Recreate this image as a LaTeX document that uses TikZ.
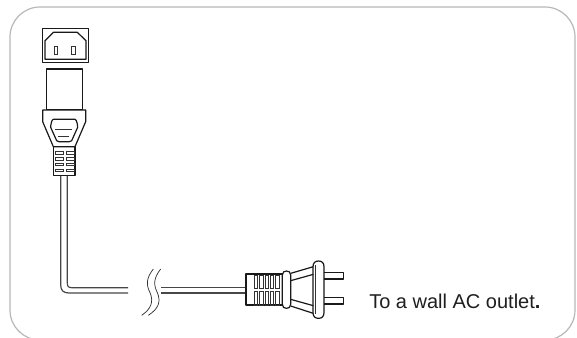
\documentclass[tikz,border=0pt]{standalone}
\usepackage{fontspec}
\setmainfont{Liberation Sans}
\tikzset{
  ink/.style={draw=black!90, line width=0.9pt, line join=round},
  thin ink/.style={draw=black!80, line width=0.55pt},
  frame/.style={draw=black!28, line width=0.9pt},
  wire/.style={draw=black!72, line width=0.9pt},
  caption/.style={inner sep=0pt, anchor=base west, text=black!88, font=\fontsize{15pt}{16pt}\selectfont}
}
\begin{document}
\begin{tikzpicture}[x=0.75pt,y=-0.75pt]
\path[use as bounding box, clip] (0,0) rectangle (577,337);
\fill[white] (0,0) rectangle (577,337);
% rounded frame
\draw[frame, rounded corners=22.5pt] (10,7) rectangle (575,340);
% cable
\draw[wire] (60.7,176) -- (60.7,285) .. controls (60.7,290.5) and (63.5,293) .. (69,293) -- (128,293);
\draw[wire] (67.3,176) -- (67.3,283) .. controls (67.3,286.5) and (68.5,287.7) .. (72,287.7) -- (128,287.7);
\draw[wire] (161,287.5) -- (246,287.5);
\draw[wire] (161,293) -- (246,293);
% break marks
\begin{scope}[shift={(30pt,-180pt)},x=0.25pt,y=-0.25pt]
\draw[thin ink] (340,87) .. controls (318,115) and (318,135) .. (331,160) .. controls (340,185) and (335,205) .. (305,226);
\draw[thin ink] (362,87) .. controls (340,115) and (340,135) .. (353,160) .. controls (362,185) and (357,205) .. (325,226);
\end{scope}
% socket and connector
\begin{scope}[shift={(15pt,-7.5pt)},x=0.25pt,y=-0.25pt]
\draw[ink] (67,56) rectangle (206,158);
\draw[ink] (75,148) -- (198,148) -- (198,92) -- (172,67) -- (100,67) -- (75,92) -- cycle;
\draw[thin ink] (102,109) rectangle (113,134);
\draw[thin ink] (155,109) rectangle (166,134);
\draw[ink] (80,177) rectangle (188,298);
\draw[ink] (68,300) -- (197,300) -- (197,335) -- (165,410) -- (100,410) -- (68,335) -- cycle;
\draw[ink] (100,328) -- (165,328) .. controls (170,328) and (173,345) .. (173,352) -- (155,392) .. controls (153,395) and (150,395) .. (148,395) -- (117,395) .. controls (114,395) and (112,395) .. (110,392) -- (92,352) .. controls (92,345) and (95,328) .. (100,328) -- cycle;
\draw[thin ink] (105,357) -- (155,357);
\draw[thin ink] (113,378) -- (148,378);
\draw[ink] (100,410) rectangle (165,497);
\foreach \r in {425,443,460,477}{
  \draw[thin ink] (105,\r) rectangle (130,\r+7);
  \draw[thin ink] (138,\r) rectangle (162,\r+7);
}
\end{scope}
% plug
\begin{scope}[shift={(165pt,-180pt)},x=0.25pt,y=-0.25pt]
\draw[ink] (190,102) -- (78,102) -- (78,195) -- (190,195);
\foreach \c in {103,119,135,151,167}{
  \draw[thin ink] (\c,105) rectangle (\c+10,145);
  \draw[thin ink] (\c,155) rectangle (\c+10,195);
}
\draw[ink] (187,105) .. controls (187,96) and (193,93) .. (199.5,93) .. controls (206,93) and (212,96) .. (212,105) -- (212,193) .. controls (212,202) and (206,205) .. (199.5,205) .. controls (193,205) and (187,202) .. (187,193) -- cycle;
\draw[ink] (212,100) -- (280,80);
\draw[ink] (212,198) -- (280,220);
\draw[ink] (212,122) -- (280,103);
\draw[ink] (212,178) -- (280,197);
\draw[ink] (279,80) .. controls (279,68) and (286,63) .. (295.5,63) .. controls (305,63) and (312,68) .. (312,80) -- (312,218) .. controls (312,230) and (305,235) .. (295.5,235) .. controls (286,235) and (279,230) .. (279,218) -- cycle;
\draw[thin ink] (286,75) -- (286,222);
\draw[ink] (312,97) -- (370,97) -- (370,117) -- (312,117);
\draw[ink] (312,172) -- (370,172) -- (370,192) -- (312,192);
\end{scope}
\node[caption] (label) at (369,308) {To a wall AC outlet{\bfseries .}};
\end{tikzpicture}
\end{document}
